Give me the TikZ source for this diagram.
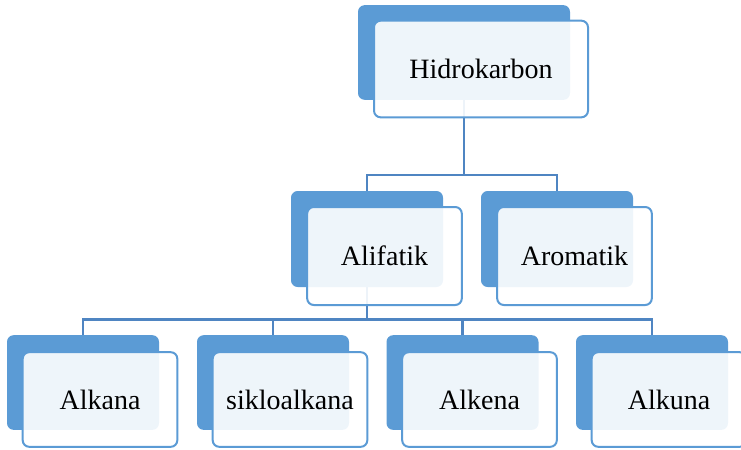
\documentclass[tikz,border=0pt]{standalone}
\usepackage{fontspec}
\setmainfont{Liberation Serif}
\usetikzlibrary{calc}
\definecolor{boxblue}{HTML}{5B9BD5}
\definecolor{branchblue}{HTML}{4F85C2}
\begin{document}
\begin{tikzpicture}[x=0.75pt, y=-0.75pt]
    \tikzstyle{backbox} = [fill=boxblue, rounded corners=5pt, minimum width=114pt, minimum height=72pt, inner sep=0pt]
    \tikzstyle{frontbox} = [draw=boxblue, line width=1.5pt, fill=white, fill opacity=0.9, text opacity=1, rounded corners=5pt, minimum width=116pt, minimum height=72.5pt, inner sep=0pt, font=\fontsize{21}{25}\selectfont]
    \tikzstyle{branch} = [draw=branchblue, line width=1.9pt]
    \useasboundingbox (0,0) rectangle (741,449);
    % back boxes
    \node[backbox, minimum width=159pt, minimum height=71pt] (hidroB) at (464,52.5) {};
    \node[backbox] (alifB) at (367,239) {};
    \node[backbox] (aromB) at (557,239) {};
    \node[backbox, minimum height=71pt] (alkanaB) at (83,382.5) {};
    \node[backbox, minimum height=71pt] (sikloB) at (273,382.5) {};
    \node[backbox, minimum height=71pt] (alkenaB) at (462.5,382.5) {};
    \node[backbox, minimum height=71pt] (alkunaB) at (652,382.5) {};
    % connectors
    \draw[branch] (hidroB.south) -- ++(0,75) -| (alifB.north);
    \draw[branch] (hidroB.south) -- ++(0,75) -| (aromB.north);
    \foreach \n in {alkanaB, sikloB, alkenaB, alkunaB}
        \draw[branch] (alifB.south) -- ++(0,32) -| (\n.north);
    % front boxes
    \node[frontbox, minimum width=160.5pt] (hidro) at ($(hidroB)+(17,16.5)$) {Hidrokarbon};
    \node[frontbox, minimum height=73.5pt] (alif) at ($(alifB)+(17.5,17)$) {Alifatik};
    \node[frontbox, minimum height=73.5pt] (arom) at ($(aromB)+(17.5,17)$) {Aromatik};
    \node[frontbox, minimum height=71pt] (alkana) at ($(alkanaB)+(17,17)$) {Alkana};
    \node[frontbox, minimum height=71pt] (siklo) at ($(sikloB)+(17,17)$) {sikloalkana};
    \node[frontbox, minimum height=71pt] (alkena) at ($(alkenaB)+(17,17)$) {Alkena};
    \node[frontbox, minimum height=71pt] (alkuna) at ($(alkunaB)+(17,17)$) {Alkuna};
\end{tikzpicture}
\end{document}
